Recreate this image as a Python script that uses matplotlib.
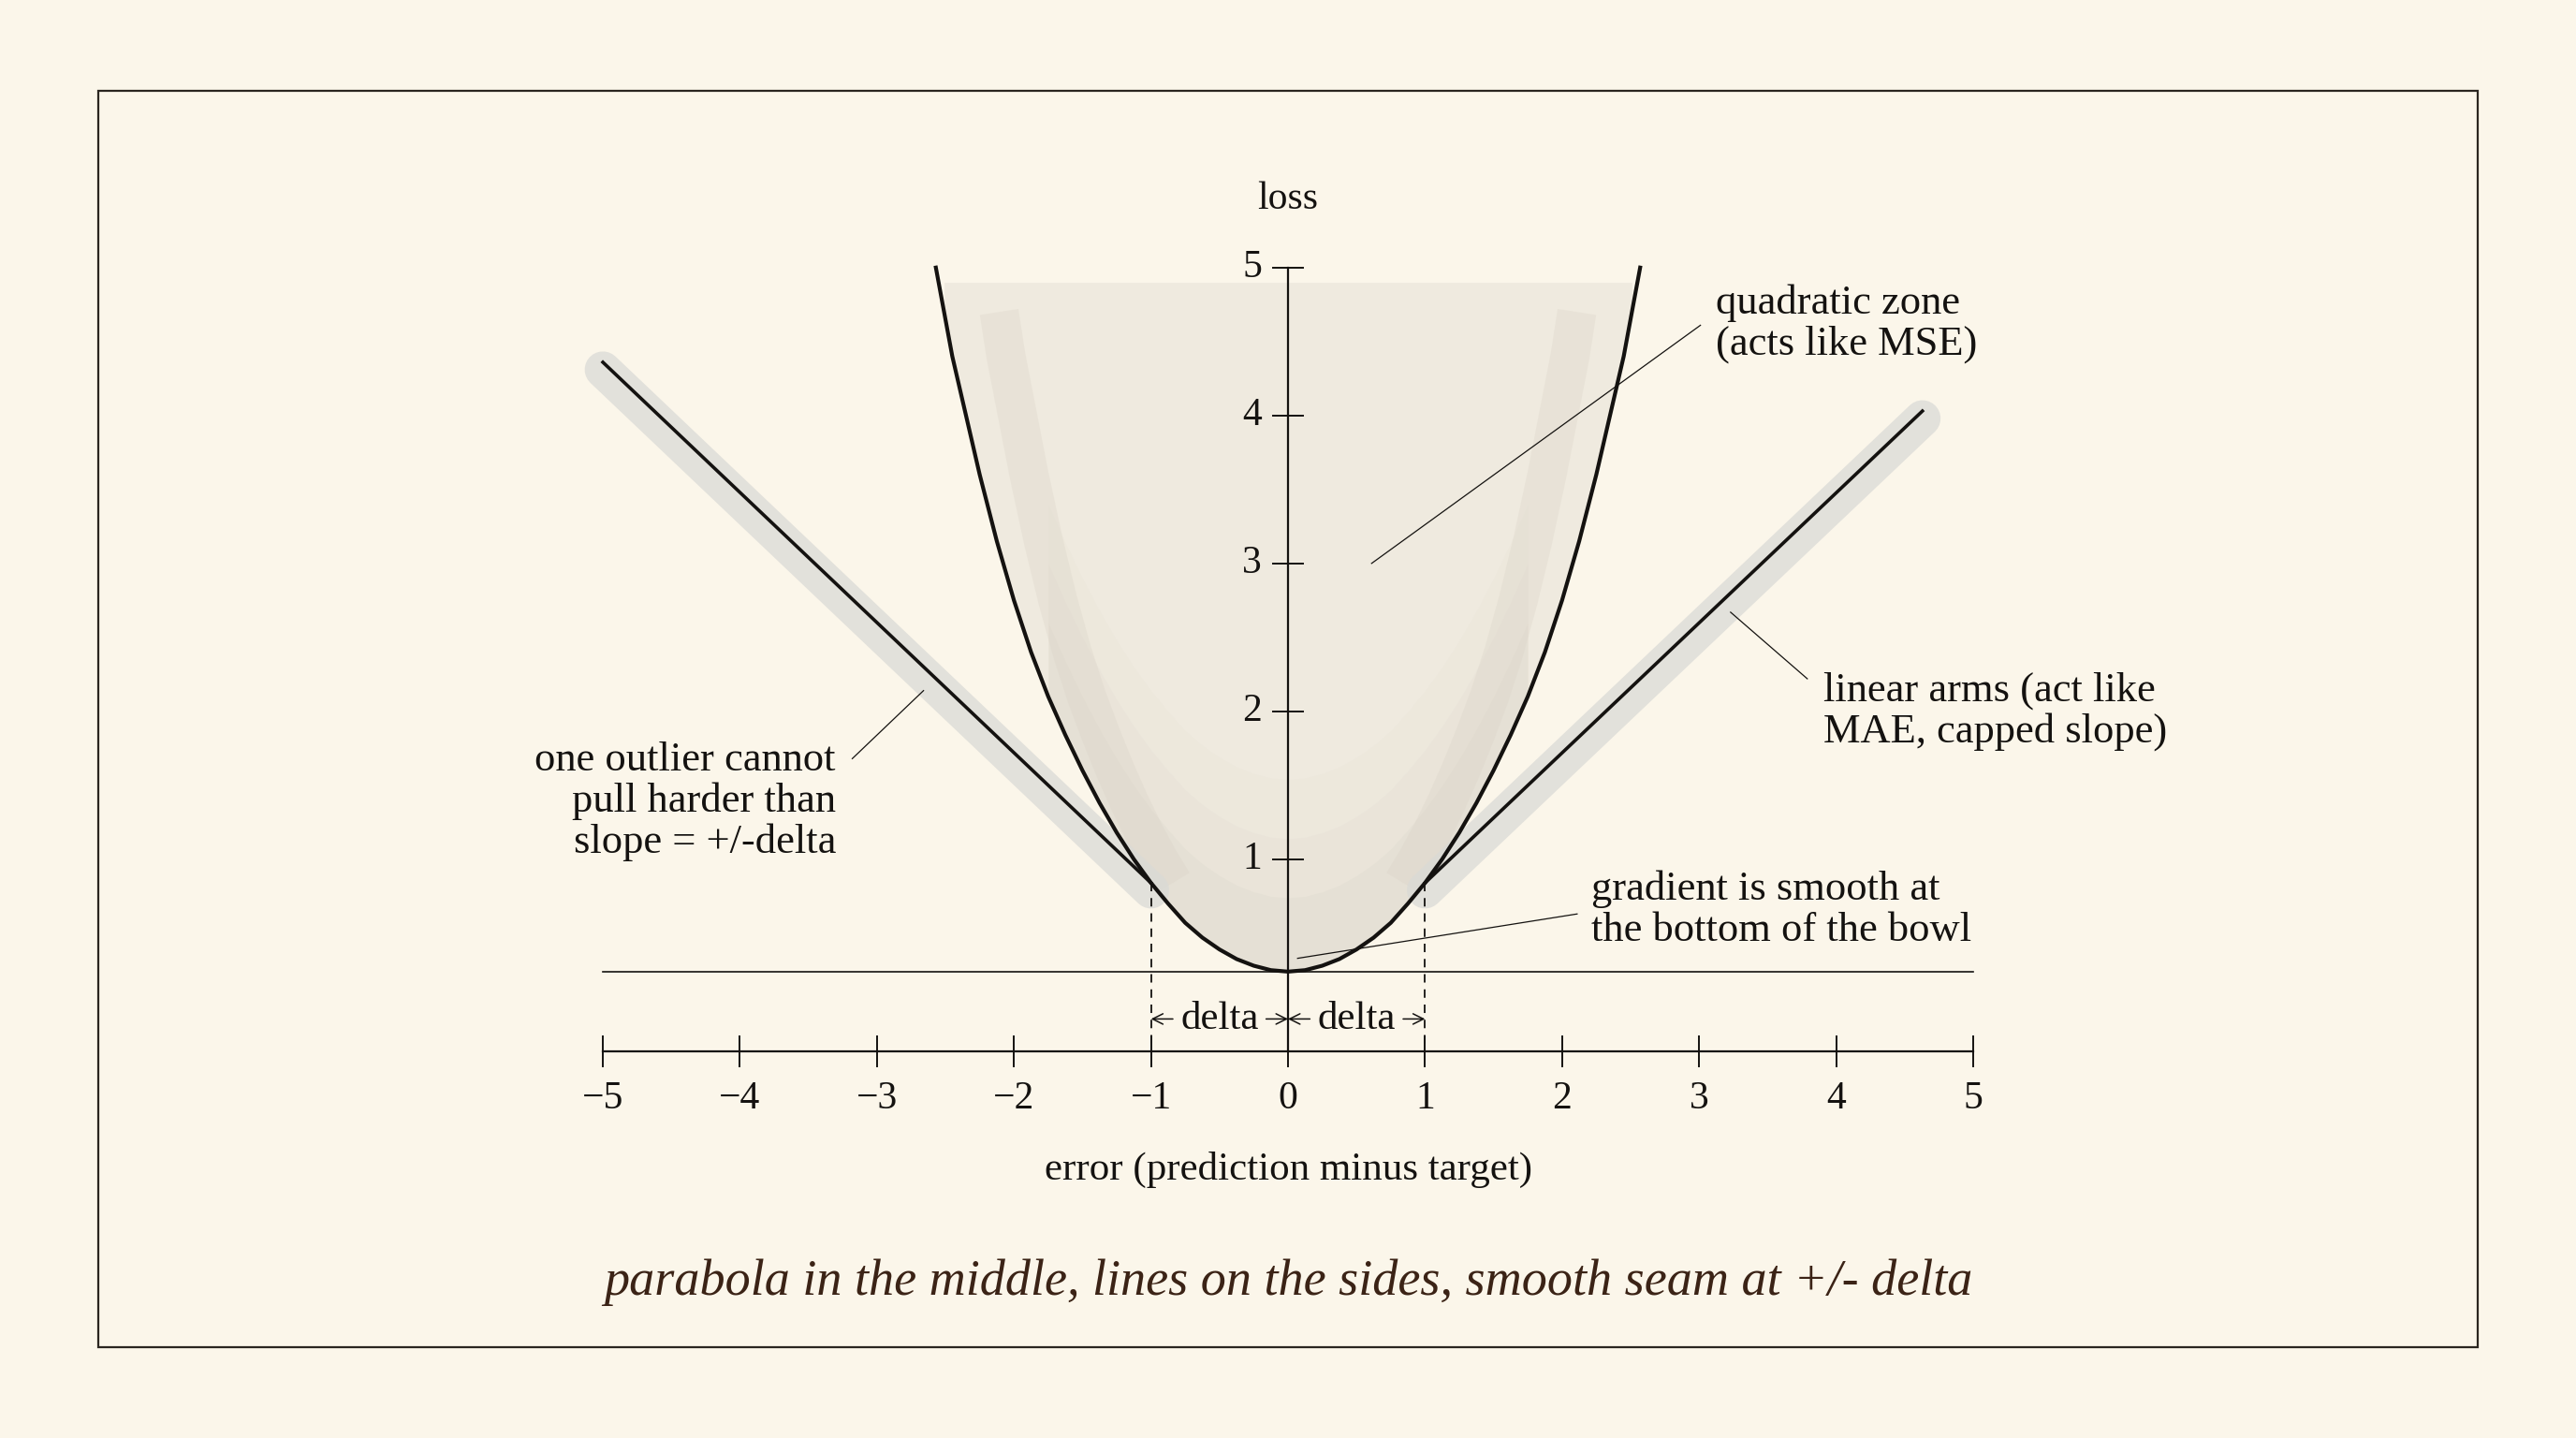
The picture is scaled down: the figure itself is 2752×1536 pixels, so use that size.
import matplotlib
matplotlib.use("Agg")
import numpy as np
import matplotlib.pyplot as plt
from matplotlib.patches import Rectangle

# data (y in tick units)
bowl_x = [-2.57, -2.51, -2.45, -2.35, -2.25, -2.125, -2.0, -1.875, -1.75, -1.625, -1.5,
          -1.375, -1.25, -1.125, -1.0, -0.875, -0.75, -0.625, -0.5, -0.375, -0.25, -0.125,
          0.0, 0.125, 0.25, 0.375, 0.5, 0.625, 0.75, 0.875, 1.0, 1.125, 1.25, 1.375,
          1.5, 1.625, 1.75, 1.875, 2.0, 2.125, 2.25, 2.35, 2.45, 2.51, 2.57]
bowl_y = [5.0, 4.7, 4.4, 4.0, 3.6, 3.15, 2.75, 2.4, 2.1, 1.84, 1.6,
          1.38, 1.18, 1.0, 0.84, 0.70, 0.57, 0.47, 0.39, 0.325, 0.28, 0.25,
          0.24, 0.25, 0.28, 0.325, 0.39, 0.47, 0.57, 0.70, 0.84, 1.0, 1.18, 1.38,
          1.6, 1.84, 2.1, 2.4, 2.75, 3.15, 3.6, 4.0, 4.4, 4.7, 5.0]
left_arm_x = [-5.0, -1.0]
left_arm_y = [4.36, 0.84]
right_arm_x = [1.0, 4.63]
right_arm_y = [0.84, 4.03]
baseline_y = 0.24
delta = 1.0
x_ticks = [-5, -4, -3, -2, -1, 0, 1, 2, 3, 4, 5]
y_ticks = [1, 2, 3, 4, 5]

bg = "#fbf6ea"
ink = "#141210"
serif = ["Liberation Serif", "DejaVu Serif"]

fig = plt.figure(figsize=(27.52, 15.36), dpi=100, facecolor=bg)
ax = fig.add_axes([0, 0, 1, 1])
ax.set_facecolor(bg)
ax.set_xlim(-9.40, 9.40)
ax.set_ylim(-2.913, 6.809)
ax.set_axis_off()

# frame
fig.patches.append(Rectangle((0.0383, 0.0629), 0.9234, 0.8742, transform=fig.transFigure,
                             fill=False, edgecolor="#2b2620", linewidth=1.6))

# watercolor-ish wash inside the bowl
bx = np.array(bowl_x)
by = np.array(bowl_y)
top = 4.9
inside = by <= top
ax.fill_between(bx[inside], by[inside], top, color="#e8e3d9", alpha=0.6, lw=0, zorder=1)
low = np.abs(bx) <= 1.75
for k, a in ((0.5, 0.18), (0.9, 0.12), (1.3, 0.08)):
    ax.fill_between(bx[low], by[low], np.minimum(by[low] + k, top), color="#d8d1c5",
                    alpha=a, lw=0, zorder=1)
for side in (-1, 1):
    m = (bx * side >= 1.0) & (by <= 4.8)
    ax.plot(bx[m] * 0.84, by[m], color="#d9d2c6", lw=30, alpha=0.3,
            solid_capstyle="butt", zorder=1)

# soft grey bands under the arms
ax.plot(left_arm_x, np.array(left_arm_y) - 0.05, color="#dadad6", lw=28, alpha=0.75,
        solid_capstyle="round", zorder=1)
ax.plot(right_arm_x, np.array(right_arm_y) - 0.05, color="#dadad6", lw=28, alpha=0.75,
        solid_capstyle="round", zorder=1)

# curves
ax.plot(bowl_x, bowl_y, color=ink, lw=3.0, zorder=4, solid_joinstyle="round")
ax.plot(left_arm_x, left_arm_y, color=ink, lw=2.6, zorder=4)
ax.plot(right_arm_x, right_arm_y, color=ink, lw=2.6, zorder=4)

# baseline
ax.plot([x_ticks[0], x_ticks[-1]], [baseline_y, baseline_y], color=ink, lw=1.2, zorder=3)

# y axis
ax.plot([0, 0], [-0.3, y_ticks[-1]], color=ink, lw=1.6, zorder=3)
for v in y_ticks:
    ax.plot([-0.11, 0.11], [v, v], color=ink, lw=1.4, zorder=3)
    ax.text(-0.19, v, str(v), ha="right", va="center", fontsize=30, family=serif, color=ink)
ax.text(0, 5.46, "loss", ha="center", va="center", fontsize=30, family=serif, color=ink)

# x axis
ax.plot([x_ticks[0], x_ticks[-1]], [-0.3, -0.3], color=ink, lw=1.6, zorder=3)
for v in x_ticks:
    ax.plot([v, v], [-0.2, -0.4], color=ink, lw=1.4, zorder=3)
    lab = str(v).replace("-", "\u2212")
    ax.text(v, -0.62, lab, ha="center", va="center", fontsize=30, family=serif, color=ink)
ax.text(0, -1.1, "error (prediction minus target)", ha="center", va="center",
        fontsize=31, family=serif, color=ink)

# delta markers
for s in (-1, 1):
    ax.plot([s * delta, s * delta], [0.84, -0.3], color=ink, lw=1.3,
            linestyle=(0, (5, 4)), zorder=3)
    ax.text(s * delta / 2, -0.08, "delta", ha="center", va="center", fontsize=31,
            family=serif, color=ink)
    for a, b in ((s * 0.16, 0.0), (s * 0.84, s * delta)):
        ax.annotate("", xy=(b, -0.08), xytext=(a, -0.08),
                    arrowprops=dict(arrowstyle="->", color=ink, lw=1.1,
                                    shrinkA=0, shrinkB=0, mutation_scale=20))

# annotations with leader lines
ax.plot([3.01, 0.61], [4.61, 3.0], color=ink, lw=0.9, zorder=3)
ax.text(3.12, 4.62, "quadratic zone\n(acts like MSE)", ha="left", va="center",
        fontsize=32, family=serif, color=ink, linespacing=1.12)

ax.plot([3.79, 3.23], [2.22, 2.67], color=ink, lw=0.9, zorder=3)
ax.text(3.91, 2.0, "linear arms (act like\nMAE, capped slope)", ha="left", va="center",
        fontsize=32, family=serif, color=ink, linespacing=1.12)

ax.plot([-3.18, -2.66], [1.68, 2.14], color=ink, lw=0.9, zorder=3)
ax.text(-3.30, 1.39, "one outlier cannot\npull harder than\nslope = +/-delta", ha="right",
        va="center", fontsize=32, family=serif, color=ink, linespacing=1.12)

ax.plot([2.11, 0.07], [0.63, 0.33], color=ink, lw=0.9, zorder=5)
ax.text(2.21, 0.66, "gradient is smooth at\nthe bottom of the bowl", ha="left", va="center",
        fontsize=32, family=serif, color=ink, linespacing=1.12)

# caption
ax.text(0, -1.86, "parabola in the middle, lines on the sides, smooth seam at +/- delta",
        ha="center", va="center", fontsize=39, family=serif, style="italic", color="#3b2316")

fig.savefig("out.png", dpi=100, facecolor=bg)
